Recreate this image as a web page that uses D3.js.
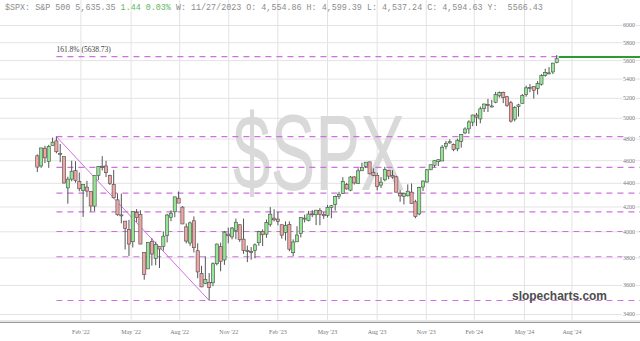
<!DOCTYPE html>
<html>
<head>
<meta charset="utf-8">
<script src="https://cdn.jsdelivr.net/npm/d3@7"></script>
<style>
  body { margin: 0; background: #fff; }
  svg { display: block; }
</style>
</head>
<body>
<div id="chart"></div>
<script>
// Weekly S&P 500 candles, Nov 29 2021 .. Jul 8 2024 (one per Monday)
const weekFirst = "2021-11-29";
const weekLast = "2024-07-08";

const opens = [4640,4548,4710,4588,4734,4778,4655,4632,4356,4432,4506,4413,4333,4363,4327,4203,4462,4541,4548,4463,4386,4255,4131,4081,4013,3919,4151,4135,3838,3715,3921,3793,3881,3884,3966,4112,4156,4269,4195,4035,3909,4084,3850,3683,3610,3618,3615,3753,3882,3781,3978,3956,4005,4052,3939,3854,3843,3853,3911,3999,3978,4056,4105,4097,4052,3992,4055,3835,3918,3983,4102,4085,4140,4132,4167,4136,4127,4191,4218,4283,4310,4384,4337,4451,4394,4505,4543,4585,4492,4464,4380,4426,4510,4463,4452,4311,4285,4289,4320,4239,4139,4364,4407,4514,4555,4586,4593,4726,4759,4745,4704,4772,4853,4892,4957,5027,4989,5093,5131,5112,5155,5220,5257,5211,5150,4987,5114,5142,5233,5305,5316,5297,5341,5431,5460,5471,5573];
const highs = [4653,4714,4732,4741,4809,4819,4749,4632,4453,4595,4590,4490,4385,4417,4327,4465,4546,4637,4594,4471,4513,4309,4308,4081,4091,4159,4178,4169,3838,3914,3946,3919,3881,3999,4140,4168,4281,4325,4203,4062,4077,4119,3907,3737,3807,3685,3763,3905,3912,4002,4029,4034,4101,4053,4101,3889,3878,3906,4004,4015,4094,4195,4177,4156,4052,4079,4079,3937,4040,4111,4133,4164,4170,4170,4187,4154,4213,4213,4291,4323,4449,4400,4459,4457,4528,4578,4582,4585,4527,4490,4450,4541,4513,4511,4461,4339,4317,4386,4394,4256,4366,4421,4520,4560,4599,4609,4739,4778,4793,4754,4799,4842,4907,4975,5030,5048,5111,5140,5189,5179,5261,5265,5263,5220,5168,5115,5139,5240,5326,5342,5316,5375,5447,5506,5524,5570,5656];
const lows = [4495,4531,4573,4531,4733,4663,4582,4395,4223,4414,4401,4327,4115,4280,4158,4162,4424,4508,4450,4381,4268,4124,4063,3859,3810,3875,4074,3900,3637,3715,3739,3742,3722,3851,3913,4080,4112,4253,4058,3906,3887,3837,3648,3584,3605,3492,3591,3741,3698,3745,3907,3937,3938,3918,3827,3765,3783,3794,3888,3886,3949,4037,4079,4047,3943,3928,3846,3809,3918,3952,4070,4079,4113,4049,4048,4099,4110,4104,4166,4261,4308,4341,4328,4385,4393,4505,4529,4475,4458,4335,4356,4413,4431,4437,4317,4239,4217,4284,4223,4104,4128,4330,4401,4511,4537,4547,4593,4699,4751,4682,4682,4715,4842,4845,4918,4920,4946,5057,5057,5104,5145,5203,5146,5108,4954,4964,5011,5142,5211,5257,5192,5234,5326,5420,5447,5448,5565];
const closes = [4538,4712,4621,4726,4766,4677,4663,4398,4432,4501,4419,4349,4385,4329,4204,4463,4543,4546,4488,4393,4272,4132,4123,4024,3901,4158,4109,3901,3675,3912,3825,3899,3863,3962,4130,4145,4280,4228,4058,3924,4067,3873,3693,3586,3640,3583,3753,3901,3771,3993,3965,4026,4072,3934,3852,3845,3840,3895,3999,3973,4071,4137,4091,4079,3970,4046,3862,3917,3971,4109,4105,4138,4134,4170,4136,4124,4192,4206,4282,4299,4410,4348,4450,4399,4505,4536,4582,4478,4464,4370,4406,4516,4458,4450,4320,4288,4309,4328,4224,4117,4358,4415,4514,4559,4595,4604,4719,4755,4770,4697,4784,4840,4891,4959,5027,5006,5089,5137,5124,5117,5234,5254,5204,5123,4967,5100,5128,5223,5303,5305,5278,5347,5432,5465,5461,5567,5615];

const priceTicks = [3400,3600,3800,4000,4200,4400,4600,4800,5000,5200,5400,5600,5800,6000];
const monthTickDates = ["2022-02-16","2022-05-19","2022-08-16","2022-11-14","2023-02-12","2023-05-14","2023-08-13","2023-11-11","2024-02-07","2024-05-09","2024-08-04"];
const monthTickLabels = ["Feb '22","May '22","Aug '22","Nov '22","Feb '23","May '23","Aug '23","Nov '23","Feb '24","May '24","Aug '24"];

// Fibonacci levels drawn from the Jan 2022 high to the Oct 2022 low
const fibLevels = [3491.58, 3804.76, 3998.54, 4155.10, 4311.69, 4534.66, 4818.62, 5638.73];
const fibLabel = "161.8% (5638.73)";
const fibHigh = { date: "2022-01-03", value: 4818.62 };
const fibLow = { date: "2022-10-10", value: 3491.58 };
const lastPrice = 5635.35;

const width = 640, height = 341;
const parse = d3.timeParse("%Y-%m-%d");

const weeks = d3.timeMonday.range(parse(weekFirst), d3.timeDay.offset(parse(weekLast), 1));
const data = weeks.map((d, i) => ({ date: d, open: opens[i], high: highs[i], low: lows[i], close: closes[i] }));

const x = d3.scaleTime()
  .domain([parse(weekFirst), parse(weekLast)])
  .range([37.3, 556.7]);

const y = d3.scaleLog()
  .domain([3400, 6000])
  .range([314, 25]);

const svg = d3.select("#chart").append("svg")
  .attr("width", width)
  .attr("height", height);

svg.append("rect")
  .attr("width", width)
  .attr("height", height)
  .attr("fill", "#fff");

// horizontal grid
svg.append("g")
  .attr("class", "ygrid")
  .call(d3.axisRight(y).tickValues(priceTicks).tickSize(width).tickFormat(""))
  .call(g => g.select(".domain").remove())
  .call(g => g.selectAll("line").attr("stroke", "#e3e3e3"));

// vertical grid + month labels
const xAxis = svg.append("g")
  .attr("transform", "translate(0,320)")
  .call(d3.axisBottom(x)
    .tickValues(monthTickDates.map(parse))
    .tickFormat((d, i) => monthTickLabels[i])
    .tickSize(-320)
    .tickPadding(10));
xAxis.select(".domain").remove();
xAxis.selectAll("line").attr("stroke", "#e3e3e3");
xAxis.selectAll("text")
  .attr("fill", "#777")
  .attr("font-family", "Liberation Serif, serif")
  .attr("font-size", 6);

// axis base line
svg.append("line")
  .attr("x1", 0).attr("x2", width)
  .attr("y1", 321).attr("y2", 321)
  .attr("stroke", "#ccc");
svg.append("line")
  .attr("x1", 0).attr("x2", width)
  .attr("y1", 322.5).attr("y2", 322.5)
  .attr("stroke", "#9a9a9a");

// watermark
svg.append("text")
  .attr("x", 319)
  .attr("y", 190)
  .attr("text-anchor", "middle")
  .attr("font-family", "Liberation Sans, Arial, sans-serif")
  .attr("font-size", 108)
  .attr("textLength", 172)
  .attr("lengthAdjust", "spacingAndGlyphs")
  .attr("fill", "#d9d9d9")
  .text("$SPX");

// fib levels
const fibX = x(parse(fibHigh.date));
svg.selectAll(".fib")
  .data(fibLevels)
  .enter().append("line")
  .attr("class", "fib")
  .attr("x1", fibX)
  .attr("x2", width)
  .attr("y1", d => y(d))
  .attr("y2", d => y(d))
  .attr("stroke", "#d070e0")
  .attr("stroke-width", 1.2)
  .attr("stroke-dasharray", "6,5");

svg.append("line")
  .attr("x1", fibX)
  .attr("y1", y(fibHigh.value))
  .attr("x2", x(parse(fibLow.date)))
  .attr("y2", y(fibLow.value))
  .attr("stroke", "#d070e0")
  .attr("stroke-width", 1);

svg.append("text")
  .attr("x", fibX)
  .attr("y", y(fibLevels[fibLevels.length - 1]) - 4.5)
  .attr("font-family", "Liberation Serif, serif")
  .attr("font-size", 7.5)
  .attr("fill", "#444")
  .text(fibLabel);

// candles
const candles = svg.append("g").selectAll("g")
  .data(data)
  .enter().append("g");

candles.append("line")
  .attr("x1", d => x(d.date))
  .attr("x2", d => x(d.date))
  .attr("y1", d => y(d.high))
  .attr("y2", d => y(d.low))
  .attr("stroke", "#555")
  .attr("stroke-width", 1);

candles.append("rect")
  .attr("x", d => x(d.date) - 1.6)
  .attr("width", 3.2)
  .attr("y", d => y(Math.max(d.open, d.close)))
  .attr("height", d => Math.max(1, y(Math.min(d.open, d.close)) - y(Math.max(d.open, d.close))))
  .attr("fill", d => d.close >= d.open ? "#94e694" : "#f0a4a4")
  .attr("stroke", "#4a4a4a")
  .attr("stroke-width", 0.6);

// current price line
const last = data[data.length - 1];
svg.append("line")
  .attr("x1", x(last.date) + 2)
  .attr("x2", width)
  .attr("y1", y(lastPrice))
  .attr("y2", y(lastPrice))
  .attr("stroke", "#2f9a2f")
  .attr("stroke-width", 2);

// price labels
const yLabels = svg.append("g")
  .attr("transform", "translate(623,0)")
  .call(d3.axisRight(y).tickValues(priceTicks).tickSize(0).tickPadding(0).tickFormat(d3.format("d")));
yLabels.select(".domain").remove();
yLabels.selectAll("text")
  .attr("fill", "#777")
  .attr("font-family", "Liberation Serif, serif")
  .attr("font-size", 6)
  .attr("stroke", "#fff")
  .attr("stroke-width", 2)
  .attr("paint-order", "stroke");

// header
const header = svg.append("text")
  .attr("x", 5)
  .attr("y", 9.5)
  .attr("font-family", "Liberation Mono, monospace")
  .attr("font-size", 8.4)
  .attr("fill", "#8c8c8c")
  .style("white-space", "pre");
header.append("tspan").text("$SPX: S&P 500 5,635.35 ");
header.append("tspan").attr("fill", "#5cb85c").text("1.44 0.03%");
header.append("tspan").text(" W: 11/27/2023 O: 4,554.86 H: 4,599.39 L: 4,537.24 C: 4,594.63 Y:  5566.43");

// site mark
svg.append("text")
  .attr("x", 512)
  .attr("y", 300)
  .attr("font-family", "Liberation Sans, Arial, sans-serif")
  .attr("font-weight", "bold")
  .attr("font-size", 12.5)
  .attr("textLength", 95)
  .attr("lengthAdjust", "spacingAndGlyphs")
  .attr("fill", "#4d4d4d")
  .text("slopecharts.com");
</script>
</body>
</html>
